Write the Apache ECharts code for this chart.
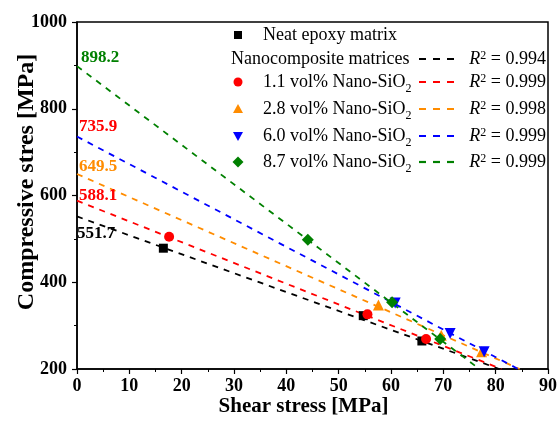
<!DOCTYPE html>
<html><head><meta charset="utf-8">
<script src="https://cdn.jsdelivr.net/npm/echarts@6/dist/echarts.min.js"></script>
<style>html,body{margin:0;padding:0;background:#fff}#c{width:559px;height:421px}</style>
</head><body><div id="c"></div>
<script>
// ---- data ----
const neatX = [16.5, 54.7, 65.9];
const neatY = [478.5, 323, 264.6];
const si11X = [17.6, 55.5, 66.7];
const si11Y = [505, 326, 269];
const si28X = [57.6, 69.6, 77.3];
const si28Y = [347.7, 278, 240];
const si60X = [60.8, 71.3, 77.8];
const si60Y = [352, 282, 240];
const si87X = [44.1, 60.2, 69.4];
const si87Y = [497.7, 354, 269];
// fitted lines: intercept at shear 0, and shear value where line reaches 200 MPa
const fitIntercepts = [551.7, 588.1, 649.5, 735.9, 898.2];
const fitEndX = [80.7, 81.1, 84.6, 84.3, 76.9];
const fitEndY = 200;
const fitR2 = ['0.994', '0.999', '0.998', '0.999', '0.999'];
const legendNames = ['Nanocomposite matrices', '1.1 vol% Nano-SiO', '2.8 vol% Nano-SiO', '6.0 vol% Nano-SiO', '8.7 vol% Nano-SiO'];
const xTickValues = [0, 10, 20, 30, 40, 50, 60, 70, 80, 90];
const yTickValues = [200, 400, 600, 800, 1000];

const FONT = 'Liberation Serif';
const cols = ['#000000', '#ff0000', '#ff8c00', '#0000ff', '#008000'];
const labelCols = ['#000000', '#ff0000', '#ff8c00', '#ff0000', '#008000'];
const labelOffsets = [[-3, 17], [-1, -5], [-1, -7], [-1, -10], [1, -9]];

const chart = echarts.init(document.getElementById('c'), null, {renderer: 'canvas'});

const pts = (xs, ys) => xs.map((x, i) => [x, ys[i]]);
const series = [];
fitIntercepts.forEach((b, i) => {
  series.push({
    type: 'line', showSymbol: true, symbol: 'circle', symbolSize: 0,
    z: 1, silent: true,
    lineStyle: {color: cols[i], width: 1.8, type: [6, 6]},
    itemStyle: {color: cols[i]},
    label: {show: false},
    data: [
      {value: [0, b], label: {show: true, position: 'right', distance: 3,
        offset: labelOffsets[i], formatter: String(b), color: labelCols[i],
        fontFamily: FONT, fontWeight: 'bold', fontSize: 17}},
      [fitEndX[i], fitEndY]
    ]
  });
});
const scat = (xs, ys, color, symbol, size, rot) => ({
  type: 'scatter', data: pts(xs, ys), symbol: symbol, symbolSize: size,
  symbolRotate: rot || 0, itemStyle: {color: color, opacity: 1}, z: 3
});
series.push(scat(neatX, neatY, cols[0], 'rect', 9));
series.push(scat(si11X, si11Y, cols[1], 'circle', 10));
series.push(scat(si28X, si28Y, cols[2], 'triangle', 11));
series.push(scat(si60X, si60Y, cols[3], 'triangle', 11, 180));
series.push(scat(si87X, si87Y, cols[4], 'diamond', 12));

// legend drawn with graphic elements
const rowY = [35, 59, 82, 109, 136, 162];
const g = [];
const iconX = 238;
g.push({type: 'rect', shape: {x: iconX - 4, y: rowY[0] - 4, width: 8, height: 8}, style: {fill: '#000'}});
g.push({type: 'circle', shape: {cx: iconX, cy: rowY[2], r: 4.5}, style: {fill: cols[1]}});
g.push({type: 'polygon', shape: {points: [[iconX, rowY[3] - 5], [iconX + 5, rowY[3] + 4], [iconX - 5, rowY[3] + 4]]}, style: {fill: cols[2]}});
g.push({type: 'polygon', shape: {points: [[iconX, rowY[4] + 5], [iconX + 5, rowY[4] - 4], [iconX - 5, rowY[4] - 4]]}, style: {fill: cols[3]}});
g.push({type: 'polygon', shape: {points: [[iconX, rowY[5] - 5.5], [iconX + 5.5, rowY[5]], [iconX, rowY[5] + 5.5], [iconX - 5.5, rowY[5]]]}, style: {fill: cols[4]}});
const richFor = (c) => ({
  n: {fontFamily: FONT, fontSize: 18, color: c, lineHeight: 26, verticalAlign: 'middle'},
  s: {fontFamily: FONT, fontSize: 12, color: c, lineHeight: 14, verticalAlign: 'bottom'},
  r: {fontFamily: FONT, fontSize: 18, color: c, fontStyle: 'italic', lineHeight: 26, verticalAlign: 'middle'},
  p: {fontFamily: FONT, fontSize: 12, color: c, verticalAlign: 'top', padding: [4, 0, 0, 0]}
});
g.push({type: 'text', x: 263, y: rowY[0], style: {text: '{n|Neat epoxy matrix}', rich: richFor('#000'), verticalAlign: 'middle'}});
legendNames.forEach((nm, i) => {
  const y = rowY[i + 1];
  const tx = i === 0 ? 231 : 263;
  const txt = i === 0 ? '{n|' + nm + '}' : '{n|' + nm + '}{s|2}';
  g.push({type: 'text', x: tx, y: y, style: {text: txt, rich: richFor(cols[i]), verticalAlign: 'middle'}});
  g.push({type: 'line', shape: {x1: 419, y1: y, x2: 461, y2: y}, style: {stroke: cols[i], lineWidth: 2.2, lineDash: [7, 7]}});
  g.push({type: 'text', x: 546, y: y, style: {text: '{r|R}{p|2}{n| = ' + fitR2[i] + '}', rich: richFor(cols[i]), align: 'right', verticalAlign: 'middle'}});
});

chart.setOption({
  animation: false,
  backgroundColor: '#ffffff',
  grid: {left: 77, right: 11, top: 22, bottom: 52, containLabel: false, outerBoundsMode: 'none',
    show: true, borderColor: '#000', borderWidth: 1.5, backgroundColor: 'transparent'},
  xAxis: {
    type: 'value', min: xTickValues[0], max: xTickValues[xTickValues.length - 1], interval: 10,
    name: 'Shear stress [MPa]', nameLocation: 'middle', nameGap: 27, nameMoveOverlap: false,
    nameTextStyle: {fontFamily: FONT, fontWeight: 'bold', fontSize: 21, color: '#000', padding: [0, 18, 0, 0]},
    axisLine: {show: true, lineStyle: {color: '#000', width: 1.5}},
    axisTick: {show: true, inside: false, length: 5, lineStyle: {color: '#000', width: 1.2}},
    minorTick: {show: true, splitNumber: 2, length: 3, lineStyle: {color: '#000', width: 1}},
    axisLabel: {fontFamily: FONT, fontWeight: 'bold', fontSize: 18, color: '#000', margin: 8},
    splitLine: {show: false}
  },
  yAxis: {
    type: 'value', min: yTickValues[0], max: yTickValues[yTickValues.length - 1], interval: 200,
    name: 'Compressive stres [MPa]', nameLocation: 'middle', nameGap: 38, nameMoveOverlap: false,
    nameTextStyle: {fontFamily: FONT, fontWeight: 'bold', fontSize: 24, color: '#000', padding: [0, 0, 0, 27]},
    axisLine: {show: true, lineStyle: {color: '#000', width: 1.5}},
    axisTick: {show: true, inside: false, length: 5, lineStyle: {color: '#000', width: 1.2}},
    minorTick: {show: true, splitNumber: 2, length: 3, lineStyle: {color: '#000', width: 1}},
    axisLabel: {fontFamily: FONT, fontWeight: 'bold', fontSize: 18, color: '#000', margin: 10,
      formatter: (v) => String(v)},
    splitLine: {show: false}
  },
  graphic: g,
  series: series
});
</script></body></html>
